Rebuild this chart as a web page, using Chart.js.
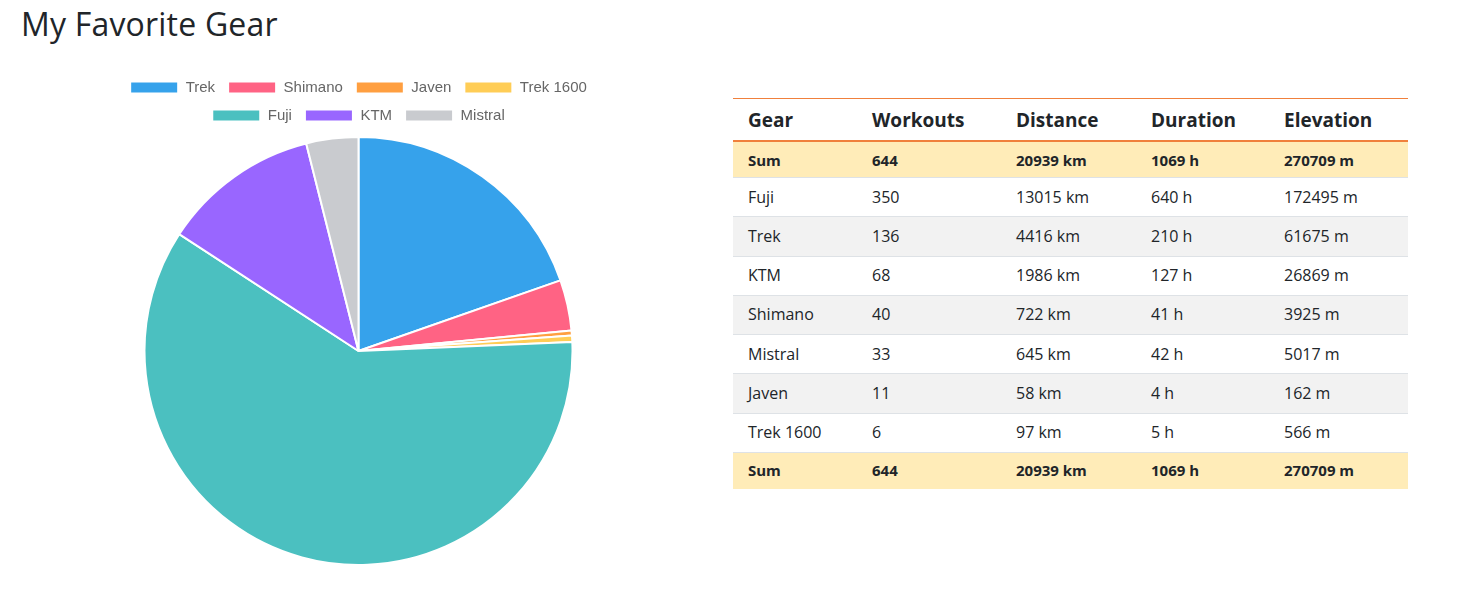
<!DOCTYPE html>
<html>
<head>
<meta charset="utf-8">
<script src="https://cdn.jsdelivr.net/npm/chart.js"></script>
<style>
  body { margin: 0; background: #fff; font-family: "Open Sans", sans-serif; color: #212529; }
  h2 { position: absolute; left: 21px; top: 2px; margin: 0; font-size: 32px; font-weight: 500; line-height: 44px; letter-spacing: 0.2px; }
  #chartBox { position: absolute; left: 78px; top: 67px; width: 561px; height: 499px; }
  table { position: absolute; left: 733px; top: 98px; width: 675px; border-collapse: collapse; border-top: 1px solid #f0803c; font-size: 16px; }
  th, td { text-align: left; padding: 7.5px 15px; line-height: 23.25px; font-weight: 400; }
  th { font-size: 19px; font-weight: 700; line-height: 26px; border-bottom: 2px solid #f0803c; }
  td { border-bottom: 1px solid #dee2e6; }
  tr.alt td { background: #f2f2f2; }
  tr.sum td { background: #ffecb8; font-weight: 700; font-size: 15px; line-height: 20px; }
  tr.sum.last td { border-top: 1px solid #f0803c; border-bottom: none; line-height: 21px; }
</style>
</head>
<body>
<h2>My Favorite Gear</h2>
<div id="chartBox"><canvas id="myChart"></canvas></div>
<table id="gearTable"></table>
<script>
// legend / pie order
const gears = ["Trek", "Shimano", "Javen", "Trek 1600", "Fuji", "KTM", "Mistral"];
const durations = [210, 41, 4, 5, 640, 127, 42];
const colors = ["#36a2eb", "#ff6384", "#ff9f40", "#ffcd56", "#4bc0c0", "#9966ff", "#c9cbcf"];

// table order
const tableGears = ["Fuji", "Trek", "KTM", "Shimano", "Mistral", "Javen", "Trek 1600"];
const tableWorkouts = [350, 136, 68, 40, 33, 11, 6];
const tableDistance = [13015, 4416, 1986, 722, 645, 58, 97];
const tableDuration = [640, 210, 127, 41, 42, 4, 5];
const tableElevation = [172495, 61675, 26869, 3925, 5017, 162, 566];

const sumRow = ["Sum", 644, "20939 km", "1069 h", "270709 m"];

function buildTable() {
  const t = document.getElementById("gearTable");
  let html = "<tr><th style='width:94px'>Gear</th><th style='width:114px'>Workouts</th><th style='width:105px'>Distance</th><th style='width:103px'>Duration</th><th>Elevation</th></tr>";
  html += "<tr class='sum'>" + sumRow.map(v => "<td>" + v + "</td>").join("") + "</tr>";
  tableGears.forEach((g, i) => {
    html += "<tr class='" + (i % 2 === 1 ? "alt" : "") + "'><td>" + g + "</td><td>" + tableWorkouts[i] +
      "</td><td>" + tableDistance[i] + " km</td><td>" + tableDuration[i] + " h</td><td>" + tableElevation[i] + " m</td></tr>";
  });
  html += "<tr class='sum last'>" + sumRow.map(v => "<td>" + v + "</td>").join("") + "</tr>";
  t.innerHTML = html;
}
buildTable();

// a little extra room under the legend
const legendGap = {
  id: 'legendGap',
  beforeInit(chart) {
    const fit = chart.legend.fit;
    chart.legend.fit = function () {
      fit.call(this);
      this.height += 3;
    };
  }
};

const ctx = document.getElementById("myChart").getContext("2d");
new Chart(ctx, {
  type: 'pie',
  data: {
    labels: gears,
    datasets: [{
      data: durations,
      backgroundColor: colors,
      borderColor: '#fff',
      borderWidth: 2
    }]
  },
  options: {
    responsive: true,
    maintainAspectRatio: false,
    animation: false,
    plugins: {
      legend: {
        position: 'top',
        labels: {
          boxWidth: 48,
          boxHeight: 12,
          padding: 13,
          color: '#666',
          font: { family: 'Liberation Sans, Arial, sans-serif', size: 15 }
        }
      },
      tooltip: { enabled: false }
    }
  },
  plugins: [legendGap]
});
</script>
</body>
</html>
